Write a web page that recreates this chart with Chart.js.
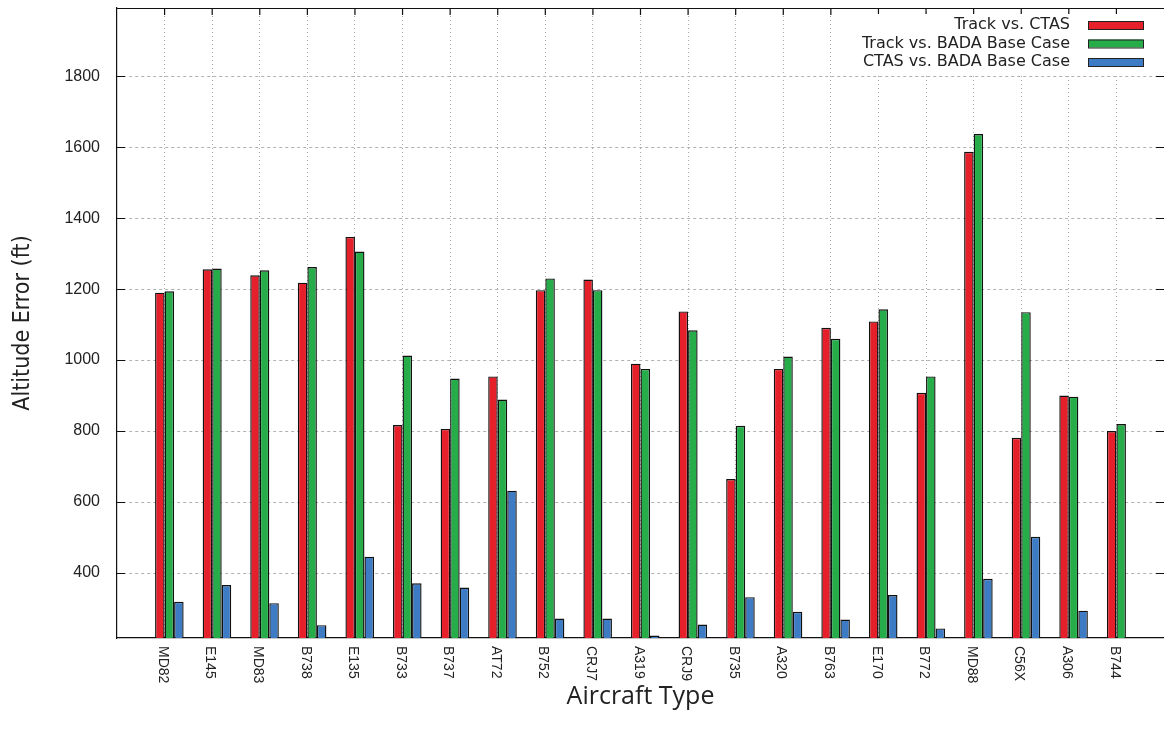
<!DOCTYPE html>
<html>
<head>
<meta charset="utf-8">
<script src="https://cdn.jsdelivr.net/npm/chart.js@4"></script>
<style>
  html, body { margin: 0; padding: 0; background: #fff; }
  #wrap { width: 1164px; height: 738px; position: relative; }
</style>
</head>
<body>
<div id="wrap"><canvas id="chart"></canvas></div>
<script>
// ******************************************************** DATA
var categories = ["MD82","E145","MD83","B738","E135","B733","B737","AT72","B752","CRJ7",
                  "A319","CRJ9","B735","A320","B763","E170","B772","MD88","C56X","A306","B744"];
var trackVsCtas = [1190,1256,1239,1218,1347,817,806,954,1197,1227,
                   990,1137,665,975,1091,1109,908,1587,781,900,800];
var trackVsBada = [1194,1258,1253,1262,1306,1013,948,889,1230,1197,
                   975,1084,815,1010,1060,1143,954,1637,1135,897,820];
var ctasVsBada  = [319,366,315,253,446,371,359,632,272,272,
                   224,255,332,291,269,338,244,384,502,294,null];
var seriesNames = ["Track vs. CTAS","Track vs. BADA Base Case","CTAS vs. BADA Base Case"];
var seriesColors = ["#e5202a","#26ad4a","#3d7cc4"];
var yTicks = [400,600,800,1000,1200,1400,1600,1800];

// empty slot on each side, like the gnuplot histogram
var xLabels = [""].concat(categories, [""]);
function pad(a) { return [null].concat(a, [null]); }

// ******************************************************** PLUGIN (frame ticks + key)
var frame = {
  id: 'frame',
  afterDatasetsDraw: function (chart) {
    var c = chart.ctx, a = chart.chartArea;
    var x = chart.scales.x, y = chart.scales.y;
    c.save();
    c.strokeStyle = '#111';
    c.lineWidth = 1.2;
    c.beginPath();
    c.moveTo(a.left, a.top + 0.5); c.lineTo(a.right, a.top + 0.5);
    for (var i = 1; i < xLabels.length - 1; i++) {
      var px = x.getPixelForTick(i);
      c.moveTo(px, a.top); c.lineTo(px, a.top + 7);
    }
    y.ticks.forEach(function (t, i) {
      var py = Math.round(y.getPixelForTick(i)) + 0.5;
      c.moveTo(a.left, py); c.lineTo(a.left + 8, py);
      c.moveTo(a.right - 8, py); c.lineTo(a.right, py);
    });
    c.stroke();

    // category labels, turned clockwise
    c.fillStyle = '#222';
    c.font = '14px "Liberation Sans", Arial, sans-serif';
    c.textAlign = 'left';
    c.textBaseline = 'middle';
    for (var j = 1; j < xLabels.length - 1; j++) {
      c.save();
      c.translate(x.getPixelForTick(j) - 2, a.bottom + 8);
      c.rotate(Math.PI / 2);
      c.fillText(xLabels[j], 0, 0);
      c.restore();
    }

    // key
    c.font = '16px "DejaVu Sans", sans-serif';
    var w = 0;
    seriesNames.forEach(function (n) { w = Math.max(w, c.measureText(n).width); });
    var textRight = a.right - 94, boxL = a.right - 76, boxW = 55;
    c.fillStyle = '#fff';
    c.fillRect(textRight - w - 6, a.top + 6, a.right - 14 - (textRight - w - 6), 62);
    c.textAlign = 'right';
    seriesNames.forEach(function (n, k) {
      var ry = a.top + 17 + k * 18.5;
      c.fillStyle = '#222';
      c.fillText(n, textRight, ry);
      c.fillStyle = seriesColors[k];
      c.fillRect(boxL, ry - 4, boxW, 8);
      c.strokeStyle = '#222';
      c.lineWidth = 1;
      c.strokeRect(boxL + 0.5, ry - 4 + 0.5, boxW, 8);
    });
    c.restore();
  }
};

// ******************************************************** CHART
var config = {
  type: 'bar',
  data: {
    labels: xLabels,
    datasets: [
      { label: '', data: pad(categories.map(function () { return null; })) },
      { label: seriesNames[0], data: pad(trackVsCtas), backgroundColor: seriesColors[0] },
      { label: seriesNames[1], data: pad(trackVsBada), backgroundColor: seriesColors[1] },
      { label: seriesNames[2], data: pad(ctasVsBada),  backgroundColor: seriesColors[2] }
    ]
  },
  options: {
    responsive: true,
    maintainAspectRatio: false,
    animation: false,
    layout: { padding: { top: 8, right: 0, left: 0, bottom: 0 } },
    datasets: { bar: { categoryPercentage: 0.8, barPercentage: 1.0, borderColor: '#111', borderWidth: 1.4, borderSkipped: false } },
    plugins: { legend: { display: false }, tooltip: { enabled: false } },
    scales: {
      x: {
        offset: false,
        grid: {
          offset: false,
          drawTicks: false,
          color: function (ctx) {
            return (ctx.index === 0 || ctx.index === xLabels.length - 1) ? 'rgba(0,0,0,0)' : '#a8a8a8';
          },
          lineWidth: 1
        },
        border: { display: true, color: '#111', width: 1.2, dash: [1, 3] },
        ticks: { display: false },
        title: {
          display: true, text: 'Aircraft Type', color: '#222',
          font: { family: '"Open Sans", sans-serif', size: 25 },
          padding: { top: 0, bottom: 26 }
        },
        afterFit: function (s) {
          s.height = 100;
          s.paddingLeft = 0; s.paddingRight = 0; s.paddingTop = 0; s.paddingBottom = 0;
        }
      },
      y: {
        min: 217,
        max: 1992,
        afterBuildTicks: function (s) { s.ticks = yTicks.map(function (v) { return { value: v }; }); },
        grid: { drawTicks: false, color: '#b0b0b0', lineWidth: 1 },
        border: { display: true, color: '#111', width: 1.2, dash: [3, 3] },
        ticks: {
          padding: 17, color: '#222',
          font: { family: '"Liberation Sans", Arial, sans-serif', size: 16 },
          callback: function (v) { return String(v); }
        },
        title: {
          display: true, text: 'Altitude Error (ft)', color: '#222',
          font: { family: '"Liberation Sans Narrow", "DejaVu Sans Condensed", "Liberation Sans", sans-serif', size: 23 },
          padding: { top: 9, bottom: 0 }
        },
        afterFit: function (s) {
          s.width = 117;
          s.paddingLeft = 0; s.paddingRight = 0; s.paddingTop = 0; s.paddingBottom = 0;
        }
      }
    }
  },
  plugins: [frame]
};

var _canvasc = document.getElementById("chart");
var _ctxc = _canvasc.getContext("2d");
window.myBar = new Chart(_ctxc, config);
</script>
</body>
</html>
